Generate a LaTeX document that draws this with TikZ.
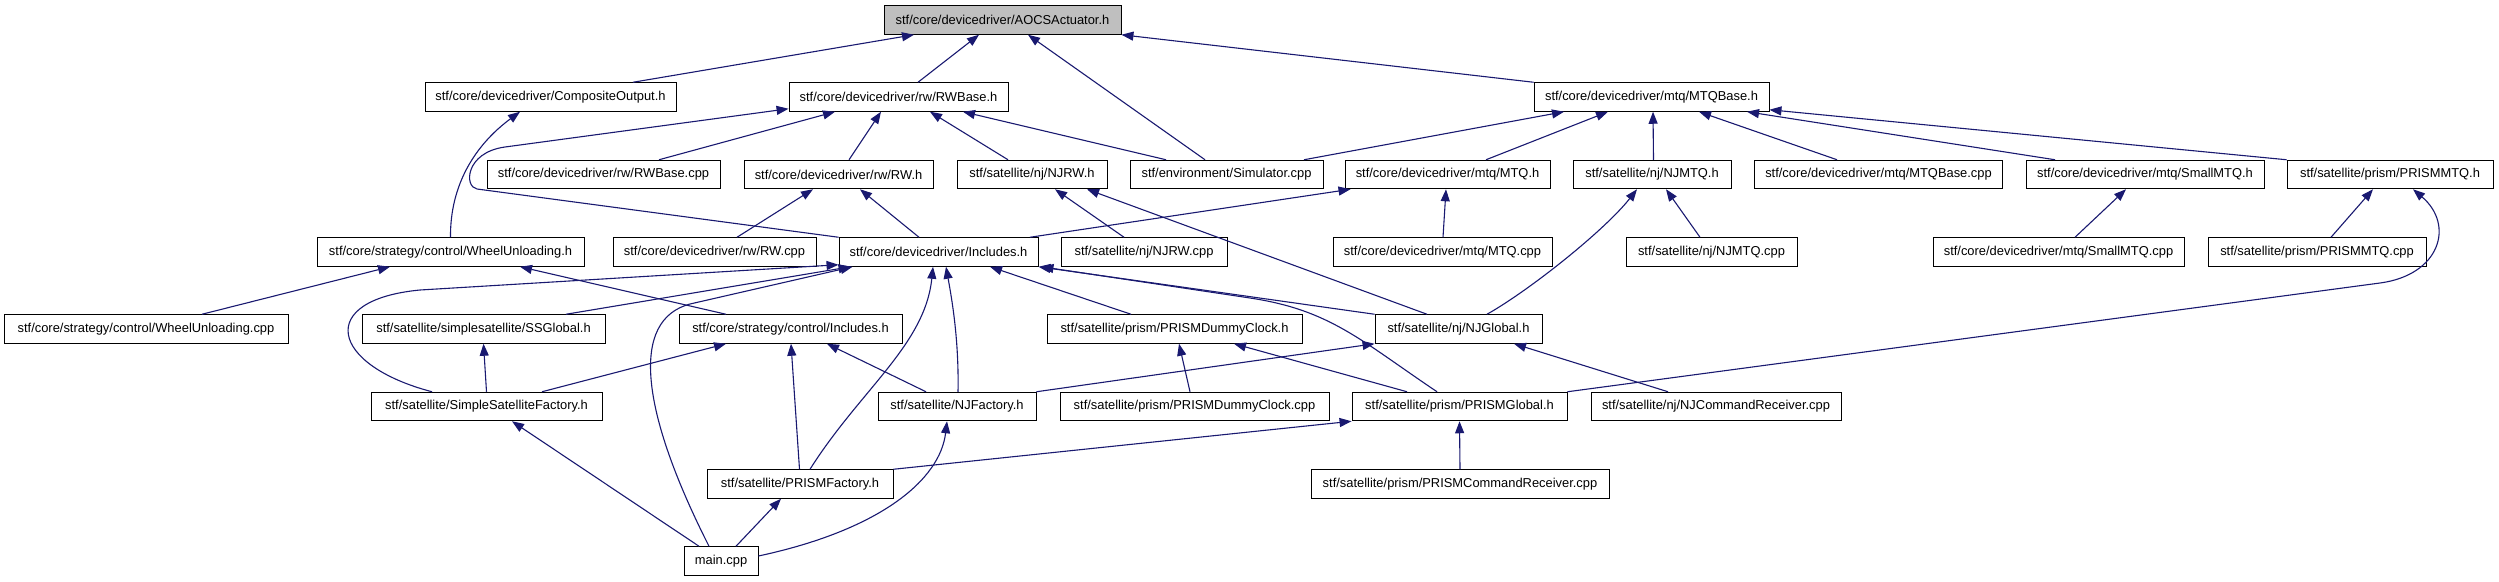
\documentclass[tikz,border=0pt]{standalone}
\usepackage{fontspec}
\setmainfont{Liberation Sans}
\usetikzlibrary{arrows.meta}
\definecolor{edgeblue}{HTML}{191970}
\definecolor{focusgray}{HTML}{BFBFBF}
\tikzset{file/.style={draw=black,fill=white,line width=0.9pt,minimum height=28.6pt,inner sep=2pt,font=\fontsize{12.9}{15}\selectfont},focus/.style={file,fill=focusgray},dep/.style={-{Triangle[length=12pt,width=9pt]},line width=1.1pt,draw=edgeblue}}

\begin{document}
\begin{tikzpicture}[x=1pt,y=-1pt]
\useasboundingbox (0,0) rectangle (2499,581);
% row 0 and 1
\node[focus,minimum width=237pt] (aocs) at (1002.5,20) {stf/core/devicedriver/AOCSActuator.h};
\node[file,minimum width=251pt] (compout) at (550.5,97) {stf/core/devicedriver/CompositeOutput.h};
\node[file,minimum width=219pt] (rwbase) at (898.5,97) {stf/core/devicedriver/rw/RWBase.h};
\node[file,minimum width=235pt] (mtqbase) at (1651.5,97) {stf/core/devicedriver/mtq/MTQBase.h};
% row 2
\node[file,minimum width=233pt] (rwbasecpp) at (603.5,174.5) {stf/core/devicedriver/rw/RWBase.cpp};
\node[file,minimum width=189pt] (rwh) at (838.5,174.5) {stf/core/devicedriver/rw/RW.h};
\node[file,minimum width=150pt] (njrw) at (1032,174.5) {stf/satellite/nj/NJRW.h};
\node[file,minimum width=193pt] (simulator) at (1226.5,174.5) {stf/environment/Simulator.cpp};
\node[file,minimum width=205pt] (mtqh) at (1447.5,174.5) {stf/core/devicedriver/mtq/MTQ.h};
\node[file,minimum width=158pt] (njmtq) at (1652,174.5) {stf/satellite/nj/NJMTQ.h};
\node[file,minimum width=248pt] (mtqbasecpp) at (1878.5,174.5) {stf/core/devicedriver/mtq/MTQBase.cpp};
\node[file,minimum width=238pt] (smallmtq) at (2145,174.5) {stf/core/devicedriver/mtq/SmallMTQ.h};
\node[file,minimum width=206pt] (prismmtq) at (2390,174.5) {stf/satellite/prism/PRISMMTQ.h};
% row 3
\node[file,minimum width=267pt] (wheelh) at (450.5,252) {stf/core/strategy/control/WheelUnloading.h};
\node[file,minimum width=203pt] (rwcpp) at (714.5,252) {stf/core/devicedriver/rw/RW.cpp};
\node[file,minimum width=199pt] (incl) at (938.5,252) {stf/core/devicedriver/Includes.h};
\node[file,minimum width=166pt] (njrwcpp) at (1144,252) {stf/satellite/nj/NJRW.cpp};
\node[file,minimum width=219pt] (mtqcpp) at (1442.5,252) {stf/core/devicedriver/mtq/MTQ.cpp};
\node[file,minimum width=171pt] (njmtqcpp) at (1711.5,252) {stf/satellite/nj/NJMTQ.cpp};
\node[file,minimum width=251pt] (smallmtqcpp) at (2058.5,252) {stf/core/devicedriver/mtq/SmallMTQ.cpp};
\node[file,minimum width=218pt] (prismmtqcpp) at (2317,252) {stf/satellite/prism/PRISMMTQ.cpp};
% row 4
\node[file,minimum width=284pt] (wheelcpp) at (146,329) {stf/core/strategy/control/WheelUnloading.cpp};
\node[file,minimum width=243pt] (ssglobal) at (483.5,329) {stf/satellite/simplesatellite/SSGlobal.h};
\node[file,minimum width=223pt] (ctrlincl) at (790.5,329) {stf/core/strategy/control/Includes.h};
\node[file,minimum width=255pt] (pdclock) at (1174.5,329) {stf/satellite/prism/PRISMDummyClock.h};
\node[file,minimum width=167pt] (njglobal) at (1458.5,329) {stf/satellite/nj/NJGlobal.h};
% row 5
\node[file,minimum width=231pt] (ssfactory) at (486.5,406.5) {stf/satellite/SimpleSatelliteFactory.h};
\node[file,minimum width=158pt] (njfactory) at (957,406.5) {stf/satellite/NJFactory.h};
\node[file,minimum width=269pt] (pdclockcpp) at (1194.5,406.5) {stf/satellite/prism/PRISMDummyClock.cpp};
\node[file,minimum width=215pt] (prismglobal) at (1459.5,406.5) {stf/satellite/prism/PRISMGlobal.h};
\node[file,minimum width=250pt] (njcmd) at (1716,406.5) {stf/satellite/nj/NJCommandReceiver.cpp};
% row 6 and 7
\node[file,minimum width=186pt] (prismfactory) at (800,484) {stf/satellite/PRISMFactory.h};
\node[file,minimum width=298pt] (prismcmd) at (1460,484) {stf/satellite/prism/PRISMCommandReceiver.cpp};
\node[file,minimum width=74pt] (maincpp) at (721,561) {main.cpp};
% includes of AOCSActuator.h
\draw[dep] ([xshift=82.5pt]compout.north)--([xshift=-88.5pt]aocs.south);\draw[dep] ([xshift=19.5pt]rwbase.north)--([xshift=-23.5pt]aocs.south);
\draw[dep] ([xshift=-21.5pt]simulator.north)--([xshift=25.5pt]aocs.south);\draw[dep] (mtqbase.north west)--(aocs.south east);
% includes of RWBase.h and CompositeOutput.h
\draw[dep] ([xshift=55.5pt]rwbasecpp.north)--([xshift=-63.5pt]rwbase.south);\draw[dep] ([xshift=10.5pt]rwh.north)--([xshift=-17.5pt]rwbase.south);
\draw[dep] ([xshift=-24pt]njrw.north)--([xshift=31.5pt]rwbase.south);\draw[dep] ([xshift=-60.5pt]simulator.north)--([xshift=64.5pt]rwbase.south);
\draw[dep] (incl.north west)--(477,189) .. controls (464,187) and (465,152.5) .. (505,147)--([yshift=3pt]rwbase.south west);
\draw[dep] (wheelh.north) .. controls (450,185) and (475,145) .. ([xshift=-30.5pt]compout.south);
% includes of MTQBase.h
\draw[dep] ([xshift=77.5pt]simulator.north)--([xshift=-87.5pt]mtqbase.south);\draw[dep] ([xshift=38.5pt]mtqh.north)--([xshift=-43.5pt]mtqbase.south);
\draw[dep] ([xshift=1.5pt]njmtq.north)--([xshift=1.5pt]mtqbase.south);\draw[dep] ([xshift=-41.5pt]mtqbasecpp.north)--([xshift=47.5pt]mtqbase.south);
\draw[dep] ([xshift=-90pt]smallmtq.north)--([xshift=95.5pt]mtqbase.south);\draw[dep] (prismmtq.north west)--([yshift=2pt]mtqbase.south east);
% second level
\draw[dep] ([xshift=22.5pt]rwcpp.north)--([xshift=-25.5pt]rwh.south);\draw[dep] ([xshift=-19.5pt]incl.north)--([xshift=21.5pt]rwh.south);
\draw[dep] ([xshift=-20pt]njrwcpp.north)--([xshift=23pt]njrw.south);\draw[dep] ([xshift=-31.5pt]njglobal.north)--([xshift=55pt]njrw.south);
\draw[dep] ([xshift=91.5pt]incl.north)--([xshift=-97pt]mtqh.south);\draw[dep] ([xshift=0.5pt]mtqcpp.north)--([xshift=-1.5pt]mtqh.south);
\draw[dep] ([xshift=28.5pt]njglobal.north) .. controls (1530,290) and (1605,230) .. ([xshift=-15pt]njmtq.south);
\draw[dep] ([xshift=-11.5pt]njmtqcpp.north)--([xshift=14pt]njmtq.south);\draw[dep] ([xshift=16.5pt]smallmtqcpp.north)--([xshift=-19pt]smallmtq.south);
\draw[dep] ([xshift=14pt]prismmtqcpp.north)--([xshift=-17pt]prismmtq.south);
\draw[dep] (prismglobal.north east)--(2380,283) .. controls (2440,275) and (2455,225) .. ([xshift=23pt]prismmtq.south);
% WheelUnloading.h and Includes.h
\draw[dep] ([xshift=-64.5pt]ctrlincl.north)--([xshift=69.5pt]wheelh.south);\draw[dep] ([xshift=56pt]wheelcpp.north)--([xshift=-60.5pt]wheelh.south);
\draw[dep] ([xshift=82.5pt]ssglobal.north)--([xshift=12pt]incl.south west);
\draw[dep] ([xshift=-54.5pt]ssfactory.north) .. controls (330,365) and (315,300) .. (420,290)--([yshift=2pt]incl.south west);
\draw[dep] ([xshift=-12pt]maincpp.north) .. controls (640,410) and (630,320) .. (690,304)--([xshift=14pt]incl.south west);
\draw[dep] ([xshift=1pt]njfactory.north) .. controls (959,340) and (952,300) .. ([xshift=7.5pt]incl.south);
\draw[dep] ([xshift=10pt]prismfactory.north) .. controls (860,390) and (925,345) .. ([xshift=-5.5pt]incl.south);
\draw[dep] ([xshift=-43.5pt]pdclock.north)--([xshift=51.5pt]incl.south);\draw[dep] (njglobal.north west)--(incl.south east);
\draw[dep] ([xshift=-22.5pt]prismglobal.north) .. controls (1360,340) and (1330,310) .. (1250,298)--([xshift=3pt]incl.south east);
% lower levels
\draw[dep] ([xshift=55.5pt]ssfactory.north)--([xshift=-64.5pt]ctrlincl.south);\draw[dep] ([xshift=-0.5pt]prismfactory.north)--([xshift=0.5pt]ctrlincl.south);
\draw[dep] ([xshift=-31pt]njfactory.north)--([xshift=36.5pt]ctrlincl.south);\draw[dep] (ssfactory.north)--(ssglobal.south);
\draw[dep] (njfactory.north east)--(njglobal.south west);\draw[dep] ([xshift=-48pt]njcmd.north)--([xshift=55.5pt]njglobal.south);
\draw[dep] ([xshift=-4.5pt]pdclockcpp.north)--([xshift=4.5pt]pdclock.south);\draw[dep] ([xshift=-52.5pt]prismglobal.north)--([xshift=59.5pt]pdclock.south);
\draw[dep] (prismfactory.north east)--(prismglobal.south west);\draw[dep] (prismcmd.north)--(prismglobal.south);
\draw[dep] ([xshift=-22pt]maincpp.north)--([xshift=25.5pt]ssfactory.south);\draw[dep] ([xshift=15pt]maincpp.north)--([xshift=-19pt]prismfactory.south);
\draw[dep] ([yshift=5pt]maincpp.east) .. controls (880,530) and (940,480) .. ([xshift=-10pt]njfactory.south);
\end{tikzpicture}
\end{document}
